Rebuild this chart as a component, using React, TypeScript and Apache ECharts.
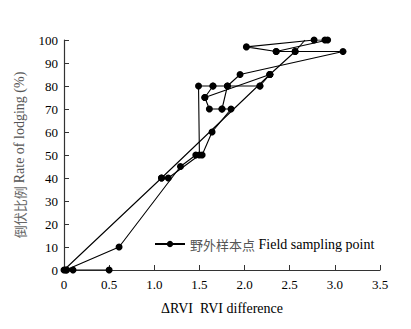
import React, { useEffect, useRef } from "react";
import * as echarts from "echarts";

const xTicks = [0, 0.5, 1.0, 1.5, 2.0, 2.5, 3.0, 3.5];
const yTicks = [0, 10, 20, 30, 40, 50, 60, 70, 80, 90, 100];
const seriesName = "野外样本点 Field sampling point";

// Field sampling points [RVI difference, lodging rate %], drawn as connected polylines
const pathA: number[][] = [[0.5, 0], [0.1, 0], [0.03, 0], [0, 0], [1.08, 40], [2.28, 85], [2.56, 95]];
const pathAEnd: number[][] = [[2.56, 95], [2.67, 100]];
const pathB: number[][] = [[0.02, 0], [0.61, 10], [1.29, 45], [1.46, 50]];
const pathC: number[][] = [[1.08, 40], [1.155, 40], [1.5, 50], [1.49, 80], [1.65, 80], [1.81, 80], [2.17, 80]];
const pathD: number[][] = [[1.53, 50], [1.64, 60], [1.85, 70], [1.75, 70], [1.61, 70], [1.56, 75], [1.65, 80]];
const pathE: number[][] = [[1.75, 70], [1.81, 80], [1.95, 85], [3.09, 95], [2.56, 95], [2.35, 95], [2.02, 97], [2.77, 100], [2.89, 100], [2.92, 100], [2.35, 95]];
const pathF: number[][] = [[1.56, 75], [2.28, 85]];
const pathG: number[][] = [[2.17, 80], [2.28, 85]];

const SERIF = "Liberation Serif";
const CJK = "Noto Sans CJK SC";

export default function App() {
  const ref = useRef<HTMLDivElement>(null);
  useEffect(() => {
    document.body.style.margin = "0";
    const chart = echarts.init(ref.current!, null, { renderer: "svg" });
    const mk = (data: any[], symbol = true) => ({
      name: seriesName,
      type: "line",
      data,
      symbol: symbol ? "circle" : "none",
      symbolSize: 7,
      itemStyle: { color: "#000" },
      lineStyle: { color: "#000", width: 1.1 },
      z: 3,
    });
    chart.setOption({
      animation: false,
      backgroundColor: "#fff",
      textStyle: { fontFamily: SERIF },
      grid: { left: 64, right: 31, top: 40, bottom: 59 },
      legend: {
        data: [seriesName],
        left: 149,
        top: 232,
        itemWidth: 30,
        itemHeight: 8,
        itemGap: 4,
        textStyle: {
          fontFamily: SERIF,
          fontSize: 14,
          color: "#000",
          rich: {
            c: { fontFamily: CJK, fontSize: 13, color: "#555" },
            e: { fontFamily: SERIF, fontSize: 14, color: "#000" },
          },
        },
        formatter: () => "{c|野外样本点} {e|Field sampling point}",
      },
      xAxis: {
        type: "value",
        min: 0,
        max: 3.5,
        interval: 0.5,
        name: "ΔRVI  RVI difference",
        nameLocation: "middle",
        nameGap: 31,
        nameTextStyle: { fontFamily: SERIF, fontSize: 14, color: "#000" },
        axisLine: { lineStyle: { color: "#333", width: 1.2 } },
        axisTick: { inside: true, length: 5, lineStyle: { color: "#333" } },
        splitLine: { show: false },
        axisLabel: {
          color: "#000",
          fontSize: 13,
          fontFamily: SERIF,
          margin: 8,
          formatter: (v: number) => (v === 0 ? "0" : v.toFixed(1)),
        },
      },
      yAxis: {
        type: "value",
        min: 0,
        max: 100,
        interval: 10,
        name: "{c|倒伏比例} {e|Rate of lodging (%)}",
        nameLocation: "middle",
        nameGap: 38,
        nameTextStyle: {
          rich: {
            c: { fontFamily: CJK, fontSize: 13, color: "#666" },
            e: { fontFamily: SERIF, fontSize: 14, color: "#555" },
          },
        },
        axisLine: { show: true, lineStyle: { color: "#333", width: 1.2 } },
        axisTick: { show: true, inside: true, length: 5, lineStyle: { color: "#333" } },
        splitLine: { show: false },
        axisLabel: { color: "#000", fontSize: 13, fontFamily: SERIF, margin: 6 },
      },
      series: [
        mk(pathA),
        mk(pathAEnd, false),
        mk(pathB),
        mk(pathC),
        mk(pathD),
        mk(pathE),
        mk(pathF),
        mk(pathG),
      ],
    });
    return () => chart.dispose();
  }, []);
  return <div ref={ref} style={{ width: 411, height: 329 }} />;
}
